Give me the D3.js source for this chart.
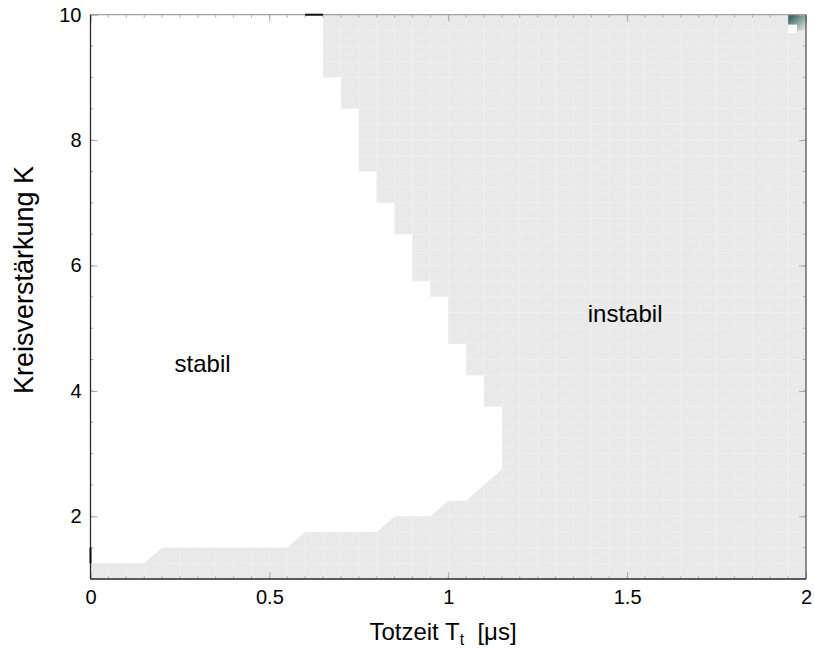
<!DOCTYPE html>
<html>
<head>
<meta charset="utf-8">
<script src="https://cdn.jsdelivr.net/npm/d3@7"></script>
<style>
  body { margin: 0; background: #fff; }
  svg text { font-family: "Liberation Sans", Arial, Helvetica, sans-serif; }
</style>
</head>
<body>
<div class="chart-container"></div>
<script>
// Stability boundary (Totzeit T_t in us, Kreisverstaerkung K), traced from top to bottom
var boundaryT = [0.65, 0.65, 0.70, 0.70, 0.75, 0.75, 0.80, 0.80, 0.85, 0.85, 0.90, 0.90, 0.95, 0.95, 1.00, 1.00,
  1.05, 1.05, 1.10, 1.10, 1.15, 1.15, 1.05, 1.00, 0.95, 0.85, 0.80, 0.60, 0.55, 0.20, 0.15, 0.00];
var boundaryK = [10, 9.0, 9.0, 8.5, 8.5, 7.5, 7.5, 7.0, 7.0, 6.5, 6.5, 5.75, 5.75, 5.5, 5.5, 4.75,
  4.75, 4.25, 4.25, 3.75, 3.75, 2.75, 2.25, 2.25, 2.0, 2.0, 1.75, 1.75, 1.5, 1.5, 1.25, 1.25];

// Tick values
var xTicks = [0, 0.5, 1, 1.5, 2];
var xTickLabels = ["0", "0.5", "1", "1.5", "2"];
var yTicks = [2, 4, 6, 8, 10];
var yTickLabels = ["2", "4", "6", "8", "10"];

// Mesh spacing of the computed grid
var meshStepT = 0.05;
var meshStepK = 0.25;

// Region labels
var regionNames = ["stabil", "instabil"];
var regionT = [0.235, 1.39];
var regionK = [4.30, 5.10];

// Chart dimensions
var width = 814;
var height = 651;
var margin = { top: 14.7, right: 8, bottom: 72, left: 90.5 };
var plotW = width - margin.left - margin.right;
var plotH = height - margin.top - margin.bottom;

var svg = d3.select(".chart-container")
  .append("svg")
  .attr("width", width)
  .attr("height", height);

var x = d3.scaleLinear().domain([0, 2]).range([margin.left, margin.left + plotW]);
var y = d3.scaleLinear().domain([1, 10]).range([margin.top + plotH, margin.top]);

// Unstable region = boundary + right/bottom edges of the plot
var regionPts = boundaryT.map(function (t, i) { return [t, boundaryK[i]]; });
regionPts.push([0, 1], [2, 1], [2, 10]);

var line = d3.line()
  .x(function (d) { return x(d[0]); })
  .y(function (d) { return y(d[1]); });

svg.append("clipPath")
  .attr("id", "unstable-clip")
  .append("path")
  .attr("d", line(regionPts) + "Z");

svg.append("path")
  .attr("d", line(regionPts) + "Z")
  .attr("fill", "#e9e9e9");

// Mesh lines of the surface, clipped to the grey area
var mesh = svg.append("g")
  .attr("clip-path", "url(#unstable-clip)")
  .attr("stroke", "#efefef")
  .attr("stroke-width", 1)
  .attr("fill", "none");

var tGrid = d3.range(0, 2 + 1e-9, meshStepT);
var kGrid = d3.range(1, 10 + 1e-9, meshStepK);

mesh.selectAll(".vline")
  .data(tGrid)
  .enter().append("line")
  .attr("x1", function (d) { return x(d); })
  .attr("x2", function (d) { return x(d); })
  .attr("y1", y(1))
  .attr("y2", y(10));

mesh.selectAll(".hline")
  .data(kGrid)
  .enter().append("line")
  .attr("x1", x(0))
  .attr("x2", x(2))
  .attr("y1", function (d) { return y(d); })
  .attr("y2", function (d) { return y(d); });

var cells = [];
tGrid.slice(0, -1).forEach(function (t) {
  kGrid.slice(0, -1).forEach(function (k) { cells.push([t, k]); });
});

mesh.selectAll(".diag")
  .data(cells)
  .enter().append("line")
  .attr("stroke", "#eeeeee")
  .attr("x1", function (d) { return x(d[0]); })
  .attr("y1", function (d) { return y(d[1]); })
  .attr("x2", function (d) { return x(d[0] + meshStepT); })
  .attr("y2", function (d) { return y(d[1] + meshStepK); });

// Rendering artefact in the top right corner cell
var grad = svg.append("defs").append("linearGradient")
  .attr("id", "cornerGrad")
  .attr("x1", "0").attr("y1", "0").attr("x2", "1").attr("y2", "1");
grad.append("stop").attr("offset", "0").attr("stop-color", "#26504b");
grad.append("stop").attr("offset", "0.55").attr("stop-color", "#8fa9a5");
grad.append("stop").attr("offset", "1").attr("stop-color", "#e9e9e9");

svg.append("path")
  .attr("d", line([[1.95, 10], [2, 10], [2, 9.75], [1.975, 9.75], [1.975, 9.84], [1.95, 9.84]]) + "Z")
  .attr("fill", "url(#cornerGrad)");
svg.append("path")
  .attr("d", line([[1.95, 9.84], [1.975, 9.84], [1.975, 9.71], [1.95, 9.71]]) + "Z")
  .attr("fill", "#ffffff");

// Axes (ticks point inwards)
var axisFont = "20px";

var xAxis = svg.append("g")
  .attr("transform", "translate(0," + y(1) + ")")
  .call(d3.axisBottom(x).tickValues(xTicks)
    .tickFormat(function (d, i) { return xTickLabels[i]; })
    .tickSize(-7).tickPadding(11));

var yAxis = svg.append("g")
  .attr("transform", "translate(" + x(0) + ",0)")
  .call(d3.axisLeft(y).tickValues(yTicks)
    .tickFormat(function (d, i) { return yTickLabels[i]; })
    .tickSize(-7).tickPadding(9));

var xTop = svg.append("g")
  .attr("transform", "translate(0," + y(10) + ")")
  .call(d3.axisTop(x).tickValues(xTicks).tickFormat("").tickSize(-7));

var yRight = svg.append("g")
  .attr("transform", "translate(" + x(2) + ",0)")
  .call(d3.axisRight(y).tickValues(yTicks).tickFormat("").tickSize(-7));

[xAxis, yAxis, xTop, yRight].forEach(function (g) {
  g.select(".domain").remove();
  g.selectAll(".tick line").attr("stroke", "#a8a8a8");
  g.selectAll(".tick text")
    .attr("fill", "#000")
    .style("font-size", axisFont)
    .style("font-family", "'Liberation Sans', Arial, sans-serif");
});

// Minor ticks
var minorT = d3.range(0, 2 + 1e-9, 0.05);
var minorK = d3.range(1, 10 + 1e-9, 0.5);
var minor = svg.append("g").attr("stroke", "#b0b0b0").attr("stroke-width", 1);

minor.selectAll(".mb").data(minorT).enter().append("line")
  .attr("x1", function (d) { return x(d); }).attr("x2", function (d) { return x(d); })
  .attr("y1", y(1)).attr("y2", y(1) - 3);
minor.selectAll(".mt").data(minorT).enter().append("line")
  .attr("x1", function (d) { return x(d); }).attr("x2", function (d) { return x(d); })
  .attr("y1", y(10)).attr("y2", y(10) + 3);
minor.selectAll(".ml").data(minorK).enter().append("line")
  .attr("x1", x(0)).attr("x2", x(0) + 3)
  .attr("y1", function (d) { return y(d); }).attr("y2", function (d) { return y(d); });
minor.selectAll(".mr").data(minorK).enter().append("line")
  .attr("x1", x(2)).attr("x2", x(2) - 3)
  .attr("y1", function (d) { return y(d); }).attr("y2", function (d) { return y(d); });

// Box
svg.append("line").attr("x1", x(0)).attr("x2", x(2)).attr("y1", y(10)).attr("y2", y(10))
  .attr("stroke", "#a0a0a0").attr("stroke-width", 1.2);
svg.append("line").attr("x1", x(0)).attr("x2", x(2)).attr("y1", y(1)).attr("y2", y(1))
  .attr("stroke", "#2a2a2a").attr("stroke-width", 1.3);
svg.append("line").attr("x1", x(0)).attr("x2", x(0)).attr("y1", y(1)).attr("y2", y(10))
  .attr("stroke", "#2a2a2a").attr("stroke-width", 1.3);
svg.append("line").attr("x1", x(2)).attr("x2", x(2)).attr("y1", y(1)).attr("y2", y(10))
  .attr("stroke", "#555").attr("stroke-width", 1.3);

// Dark surface edges lying on the box
svg.append("line").attr("x1", x(0.6)).attr("x2", x(0.65)).attr("y1", y(10)).attr("y2", y(10))
  .attr("stroke", "#111").attr("stroke-width", 2);
svg.append("line").attr("x1", x(0)).attr("x2", x(0)).attr("y1", y(1.5)).attr("y2", y(1.25))
  .attr("stroke", "#111").attr("stroke-width", 2);

// Region labels
svg.selectAll(".region")
  .data(regionNames)
  .enter().append("text")
  .attr("x", function (d, i) { return x(regionT[i]); })
  .attr("y", function (d, i) { return y(regionK[i]); })
  .style("font-size", "24px")
  .attr("fill", "#000")
  .text(function (d) { return d; });

// Axis labels
var xLabel = svg.append("text")
  .attr("x", 443)
  .attr("y", 640)
  .attr("text-anchor", "middle")
  .style("font-size", "24px")
  .attr("fill", "#000")
  .attr("xml:space", "preserve");
xLabel.append("tspan").text("Totzeit T");
xLabel.append("tspan").attr("dy", 5).style("font-size", "16px").text("t");
xLabel.append("tspan").attr("dy", -5).text("  [\u03bcs]");

svg.append("text")
  .attr("transform", "translate(33,280) rotate(-90)")
  .attr("text-anchor", "middle")
  .style("font-size", "27px")
  .attr("fill", "#000")
  .text("Kreisverstärkung K");
</script>
</body>
</html>
